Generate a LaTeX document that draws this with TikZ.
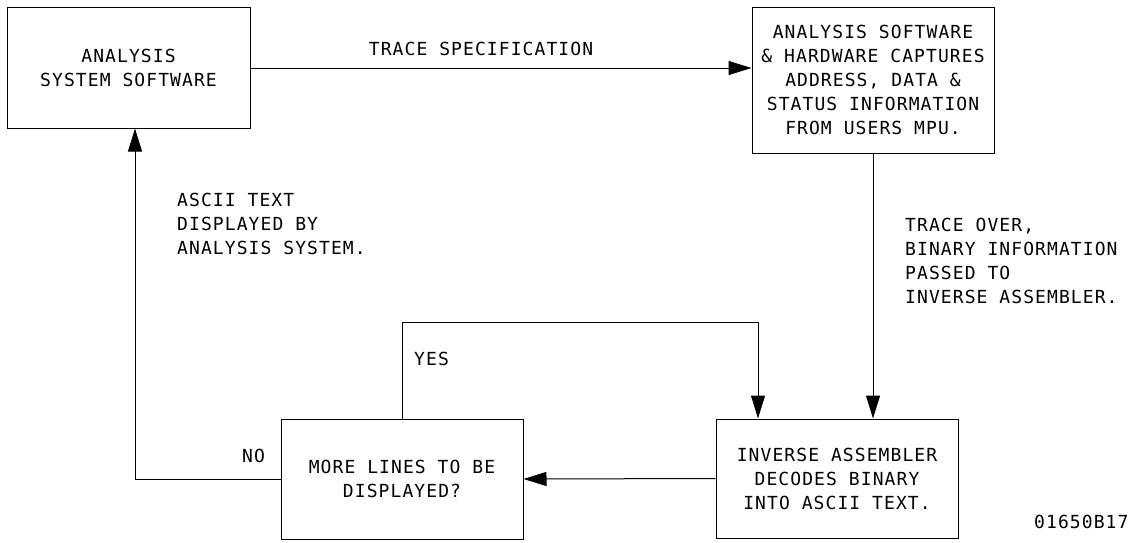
\documentclass[tikz,border=0pt]{standalone}
\usepackage{fontspec}
\setmainfont{DejaVu Sans Mono}[LetterSpace=6]
\usetikzlibrary{arrows.meta}
\begin{document}
\begin{tikzpicture}[x=1pt,y=-1pt,
  every node/.style={font=\fontsize{18}{24}\selectfont, inner sep=0pt},
  box/.style={draw, line width=1pt, align=center},
  lbl/.style={align=left, anchor=west},
  conn/.style={line width=1pt},
  arr/.style={conn, -{Triangle[length=23pt,width=14pt]}}]
\useasboundingbox (0,0) rectangle (1137,542);
\node[box, minimum width=243pt, minimum height=121pt] (sys) at (128.5,67.5) {ANALYSIS\\SYSTEM SOFTWARE};
\node[box, minimum width=242pt, minimum height=146pt] (cap) at (873,80) {ANALYSIS SOFTWARE\\\& HARDWARE CAPTURES\\ADDRESS, DATA \&\\STATUS INFORMATION\\FROM USERS MPU.};
\node[box, minimum width=242pt, minimum height=120pt] (more) at (402,479) {MORE LINES TO BE\\DISPLAYED?};
\node[box, minimum width=242pt, minimum height=119pt] (inv) at (837,478.5) {INVERSE ASSEMBLER\\DECODES BINARY\\INTO ASCII TEXT.};
\coordinate (yc) at (758,322);
\coordinate (nc) at (135,479);
\draw[arr] (sys.east |- 0,68) -- (cap.west |- 0,68);
\draw[arr] (cap.south) -- (cap.south |- inv.north);
\draw[arr] (more.north) |- (yc) -- (yc |- inv.north);
\draw[arr] (inv.west) -- (more.east);
\draw[arr] (more.west) -- (nc) -- (nc |- sys.south);
\node (tspec) at (481,49) {TRACE SPECIFICATION};
\node[lbl] (ascii) at (177,224) {ASCII TEXT\\DISPLAYED BY\\ANALYSIS SYSTEM.};
\node[lbl] (tover) at (905,261) {TRACE OVER,\\BINARY INFORMATION\\PASSED TO\\INVERSE ASSEMBLER.};
\node[lbl] (yes) at (414,359) {YES};
\node[lbl] (no) at (242,456) {NO};
\node[lbl] (fig) at (1034,522) {01650B17};
\end{tikzpicture}
\end{document}
